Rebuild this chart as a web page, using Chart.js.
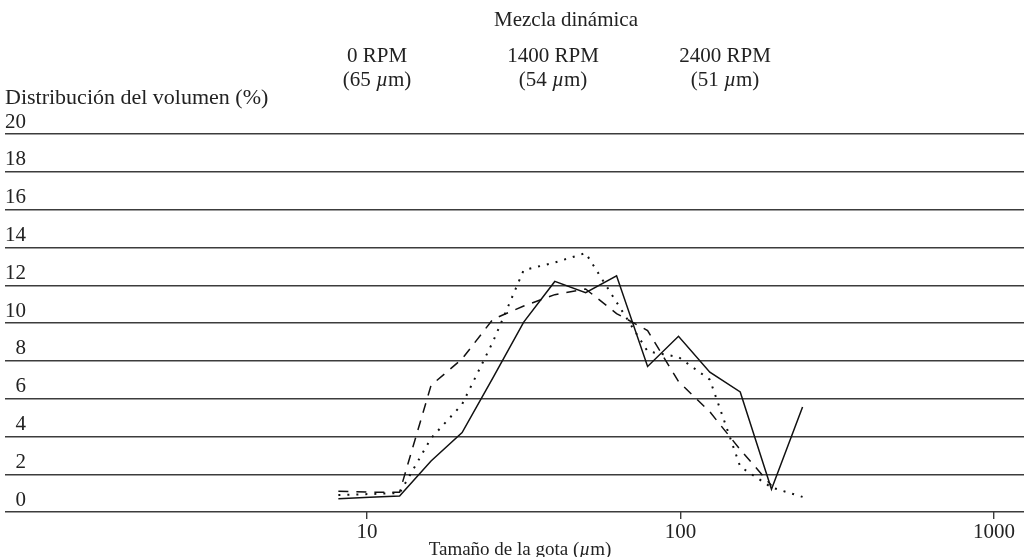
<!DOCTYPE html>
<html>
<head>
<meta charset="utf-8">
<script src="https://cdn.jsdelivr.net/npm/chart.js@4"></script>
<style>
    html, body { margin: 0; padding: 0; background: #fff; }
    #wrap { position: relative; width: 1024px; height: 557px; overflow: hidden; }
    #chart { position: absolute; left: 0; top: 0; }
    .lbl {
        position: absolute;
        font-family: 'Liberation Serif', 'DejaVu Serif', serif;
        font-size: 21px;
        color: #222;
        white-space: nowrap;
        line-height: 1;
        transform: translate(-50%, -50%);
    }
    .lbl.left { transform: translate(0, -50%); }
</style>
</head>
<body>
<div id="wrap">
    <canvas id="chart" width="1024" height="557"></canvas>
    <div class="lbl" style="left:566px; top:19px;">Mezcla dinámica</div>
    <div class="lbl" style="left:377px; top:55px;">0 RPM</div>
    <div class="lbl" style="left:377px; top:79px;">(65 <i>µ</i>m)</div>
    <div class="lbl" style="left:553px; top:55px;">1400 RPM</div>
    <div class="lbl" style="left:553px; top:79px;">(54 <i>µ</i>m)</div>
    <div class="lbl" style="left:725px; top:55px;">2400 RPM</div>
    <div class="lbl" style="left:725px; top:79px;">(51 <i>µ</i>m)</div>
    <div class="lbl left" style="left:5px; top:97px; font-size:22px;">Distribución del volumen (%)</div>
    <div class="lbl" style="left:520px; top:548px; font-size:19px;">Tamaño de la gota (<i>µ</i>m)</div>
</div>
<script>
    // droplet size bins (µm) and volume distribution (%)
    const sizes = [8.1, 10.2, 12.7, 16, 20.1, 25.2, 31.6, 39.7, 49.8, 62.5, 78.5, 98.5, 124, 155, 195, 245];
    const rpm0 = [0.7, 0.78, 0.85, 2.7, 4.2, 7.1, 10.05, 12.2, 11.6, 12.5, 7.7, 9.3, 7.4, 6.35, 1.2, 5.55];
    const rpm1400 = [1.1, 1.05, 1.05, 6.7, 8.1, 10.2, 10.9, 11.5, 11.8, 10.5, 9.6, 6.9, 5.3, 3.3, 1.4];
    const rpm2400 = [0.9, 0.95, 1.0, 3.9, 5.7, 9.0, 12.8, 13.2, 13.7, 11.1, 8.5, 8.2, 7.0, 2.4, 1.3, 0.8];

    const yTicks = [0, 2, 4, 6, 8, 10, 12, 14, 16, 18, 20];
    const xTicks = [10, 100, 1000];

    const ink = '#111';
    const gridInk = '#3c3c3c';
    const font = { family: "'Liberation Serif', serif", size: 21 };

    function toPoints(vals) {
        return vals.map((v, i) => ({ x: sizes[i], y: v }));
    }

    const lineStyle = { borderColor: ink, borderWidth: 1.5, pointRadius: 0, tension: 0, fill: false };

    new Chart(document.getElementById('chart'), {
        type: 'line',
        data: {
            datasets: [
                Object.assign({ label: '0 RPM (65 µm)', data: toPoints(rpm0) }, lineStyle),
                Object.assign({ label: '1400 RPM (54 µm)', data: toPoints(rpm1400), borderDash: [10, 8] }, lineStyle),
                Object.assign({ label: '2400 RPM (51 µm)', data: toPoints(rpm2400), borderDash: [2, 7] }, lineStyle, { borderWidth: 2 })
            ]
        },
        options: {
            responsive: false,
            animation: false,
            layout: { padding: { top: 134, left: 5, right: 0, bottom: 0 } },
            plugins: { legend: { display: false }, tooltip: { enabled: false } },
            scales: {
                x: {
                    type: 'logarithmic',
                    min: 0.708,
                    max: 1246,
                    afterBuildTicks: s => { s.ticks = xTicks.map(v => ({ value: v })); },
                    afterFit: s => { s.height = 45; },
                    border: { display: false },
                    grid: { drawOnChartArea: false, drawTicks: true, tickLength: 7, color: gridInk, lineWidth: 1.4 },
                    ticks: { color: '#222', font, padding: 1, maxRotation: 0, autoSkip: false, callback: v => String(v) }
                },
                y: {
                    min: 0,
                    max: 20,
                    afterBuildTicks: s => { s.ticks = yTicks.map(v => ({ value: v })); },
                    afterFit: s => { s.width = 0; },
                    border: { display: false },
                    grid: { drawTicks: false, color: gridInk, lineWidth: 1.4 },
                    ticks: { color: '#222', font, mirror: true, crossAlign: 'far', padding: 0, labelOffset: -12 }
                }
            }
        }
    });
</script>
</body>
</html>
